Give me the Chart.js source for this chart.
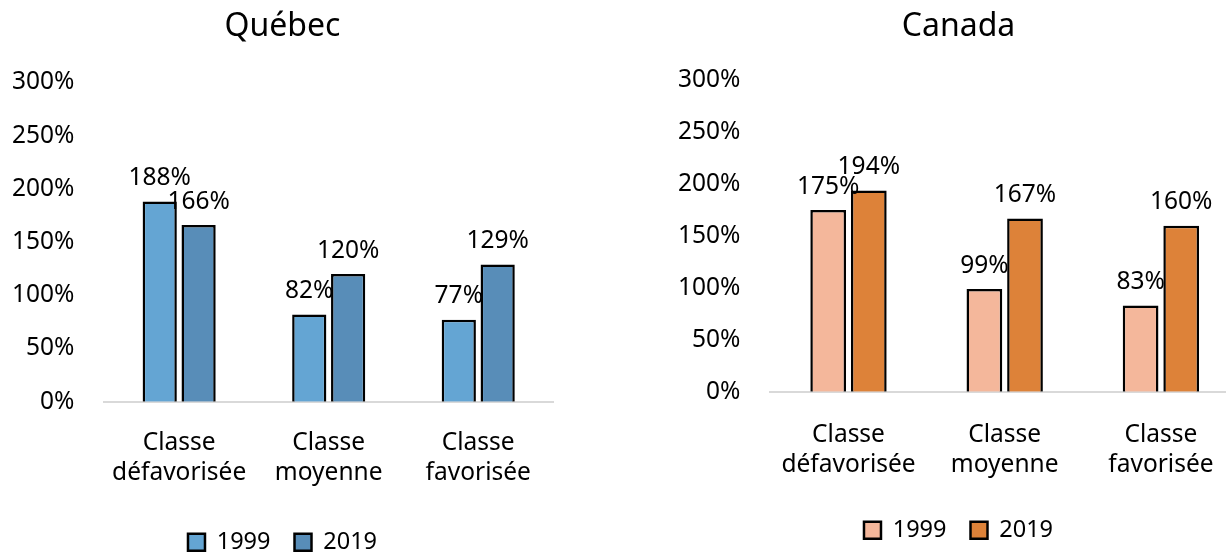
<!DOCTYPE html>
<html>
<head>
<meta charset="utf-8">
<script src="https://cdn.jsdelivr.net/npm/chart.js@4"></script>
<style>
  html, body { margin: 0; padding: 0; background: #fff; overflow: hidden; }
  #wrap { position: relative; width: 1226px; height: 555px; overflow: hidden; }
  #quebec { position: absolute; left: 0; top: 0; }
  #canada { position: absolute; left: 613px; top: 0; }
</style>
</head>
<body>
<div id="wrap">
  <canvas id="quebec" width="560" height="555"></canvas>
  <canvas id="canada" width="690" height="555"></canvas>
</div>
<script>
const categories = [['Classe', 'défavorisée'], ['Classe', 'moyenne'], ['Classe', 'favorisée']];
const years = ['1999', '2019'];
const quebec1999 = [188, 82, 77];
const quebec2019 = [166, 120, 129];
const canada1999 = [175, 99, 83];
const canada2019 = [194, 167, 160];
const yTicks = [0, 50, 100, 150, 200, 250, 300];

const FONT = '"Noto Sans", sans-serif';
const SIZE = 24.5;
const Y_PAD = 30;

// value labels above each bar
const barLabels = {
    id: 'barLabels',
    afterDatasetsDraw(chart) {
        const ctx = chart.ctx;
        ctx.save();
        ctx.font = SIZE + 'px ' + FONT;
        ctx.fillStyle = '#000';
        ctx.textAlign = 'center';
        ctx.textBaseline = 'bottom';
        chart.data.datasets.forEach((ds, i) => {
            chart.getDatasetMeta(i).data.forEach((bar, j) => {
                ctx.fillText(ds.data[j] + '%', bar.x, bar.y - 11);
            });
        });
        ctx.restore();
    }
};

function makeChart(id, title, d1, d2, colors, o) {
    return new Chart(document.getElementById(id), {
        type: 'bar',
        data: {
            labels: categories,
            datasets: [
                { label: years[0], data: d1, backgroundColor: colors[0], borderColor: '#000', borderWidth: 2.5,
                  categoryPercentage: 0.52, barPercentage: 0.88 },
                { label: years[1], data: d2, backgroundColor: colors[1], borderColor: '#000', borderWidth: 2.5,
                  categoryPercentage: 0.52, barPercentage: 0.88 }
            ]
        },
        options: {
            responsive: false,
            animation: false,
            layout: { padding: o.pad },
            plugins: {
                title: {
                    display: true, text: title, color: '#000',
                    font: { family: FONT, size: 32, weight: 'normal' },
                    padding: { top: 8, bottom: o.titleGap }
                },
                legend: {
                    position: 'bottom',
                    labels: {
                        color: '#000', boxWidth: 17, boxHeight: 17,
                        font: { family: FONT, size: 23.5 },
                        padding: 24
                    }
                },
                tooltip: { enabled: false }
            },
            scales: {
                x: {
                    grid: { display: false, tickLength: o.tickGap },
                    border: { color: '#D9D9D9', width: 2 },
                    ticks: { color: '#000', font: { family: FONT, size: SIZE }, padding: 0, maxRotation: 0 },
                    afterFit: axis => {
                        axis.height += o.extra;
                        axis.paddingLeft = 0;
                        axis.paddingRight = 0;
                    }
                },
                y: {
                    min: 0, max: 300,
                    afterBuildTicks: axis => { axis.ticks = yTicks.map(v => ({ value: v })); },
                    // chart.js counts the tick padding twice in the axis width
                    afterFit: axis => { axis.width -= Y_PAD; },
                    grid: { display: false, tickLength: 0 },
                    border: { display: false },
                    ticks: { color: '#000', font: { family: FONT, size: SIZE }, padding: Y_PAD,
                             callback: v => v + '%' }
                }
            }
        },
        plugins: [barLabels]
    });
}

makeChart('quebec', 'Québec', quebec1999, quebec2019, ['#64A5D3', '#588DB8'],
    { pad: { left: 12, right: 7, top: 0, bottom: -9 }, titleGap: 36, tickGap: 27, extra: 19 });
makeChart('canada', 'Canada', canada1999, canada2019, ['#F4B79B', '#DD8239'],
    { pad: { left: 65, right: 64, top: 0, bottom: 3 }, titleGap: 34, tickGap: 29, extra: 15 });
</script>
</body>
</html>
